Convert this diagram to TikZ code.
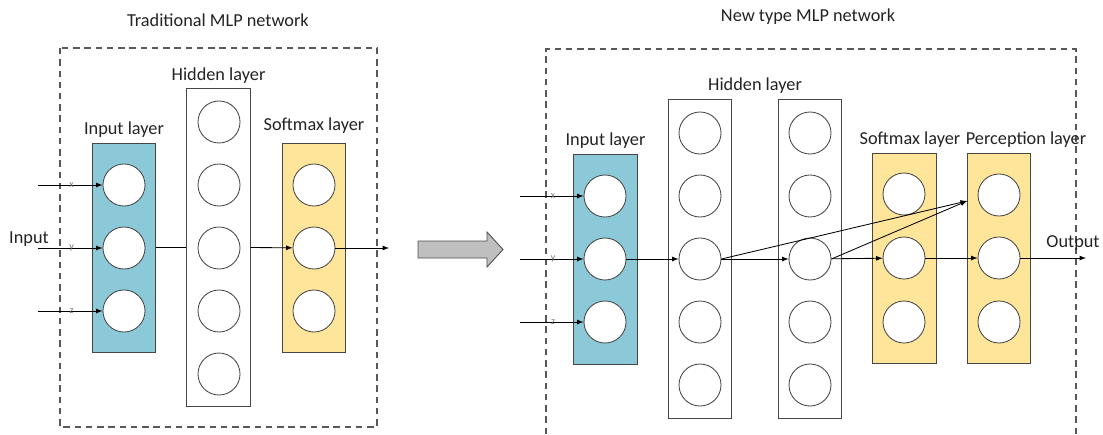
\documentclass[tikz,border=0pt]{standalone}
\usepackage{fontspec}
\setmainfont{Carlito}
\usetikzlibrary{arrows.meta}
\definecolor{inblue}{RGB}{140,201,216}
\definecolor{softyellow}{RGB}{255,229,153}
\definecolor{edgegray}{RGB}{70,70,70}
\definecolor{txtgray}{RGB}{35,35,35}
\tikzset{
	neuron/.style={circle, draw=edgegray, fill=white, semithick, minimum size=1.05cm, inner sep=0pt},
	layerbox/.style={draw=edgegray, semithick, minimum width=1.58cm, inner sep=0pt},
	lbl/.style={text=txtgray, font=\fontsize{13}{15}\selectfont},
	xyz/.style={text=black!55, font=\fontsize{7}{8}\selectfont, inner sep=0pt},
}
\begin{document}
\begin{tikzpicture}[x=0.025cm, y=-0.025cm]
	\useasboundingbox (0, 0) rectangle (1103, 434);
		\draw[edgegray!90, thick, dash pattern=on 4.5pt off 3.5pt] (60, 48) rectangle (377, 427);
		\draw[edgegray!90, thick, dash pattern=on 4.5pt off 3.5pt] (546, 434) -- (546, 49) -- (1076, 49) -- (1076, 434);
		\node[lbl] (titleA) at (218, 20) {Traditional MLP network};
		\node[lbl] (titleB) at (808, 17) {New type MLP network};
		\node[layerbox, fill=inblue, minimum height=5.225cm] (inA) at (124, 247.5) {};
		\node[layerbox, minimum height=7.95cm] (hidA) at (218.5, 247.5) {};
		\node[layerbox, fill=softyellow, minimum height=5.225cm] (smA) at (314, 247.5) {};
		\node[lbl, above] at (inA.north) {Input layer};
		\node[lbl, above] at (hidA.north) {Hidden layer};
		\node[lbl, above=3pt] at (smA.north) {Softmax layer};
		\node[neuron] (ia1) at (124, 185) {};
		\node[neuron] (ia2) at (124, 248) {};
		\node[neuron] (ia3) at (124, 311) {};
		\node[neuron] (ha1) at (219, 122) {};
		\node[neuron] (ha2) at (219, 185) {};
		\node[neuron] (ha3) at (219, 248) {};
		\node[neuron] (ha4) at (219, 311) {};
		\node[neuron] (ha5) at (219, 374) {};
		\node[neuron] (sa1) at (314, 185) {};
		\node[neuron] (sa2) at (314, 248) {};
		\node[neuron] (sa3) at (314, 311) {};
		\coordinate (xa) at (38, 185);
		\coordinate (ya) at (38, 248);
		\coordinate (za) at (38, 311);
		\coordinate (outA) at (389, 248);
		\node[lbl] (inputlbl) at (29, 239) {Input};
		\draw[semithick, -latex] (xa) -- (ia1) node[xyz, pos=0.52] {x};
		\draw[semithick, -latex] (ya) -- (ia2) node[xyz, pos=0.52] {y};
		\draw[semithick, -latex] (za) -- (ia3) node[xyz, pos=0.52] {z};
		\draw[semithick] (inA.east) -- (hidA.west);
		\draw[semithick, -latex] (hidA.east) -- (sa2);
		\draw[semithick, -latex] (sa2) -- (outA);
		\filldraw[fill=gray!50, draw=gray!60!black, semithick] (418, 241) -- (487, 241) -- (487, 232) -- (503, 249.5) -- (487, 267) -- (487, 258) -- (418, 258) -- cycle;
		\node[layerbox, fill=inblue, minimum height=5.25cm] (inB) at (605.5, 259) {};
		\node[layerbox, minimum height=7.975cm] (hidB) at (700, 258.5) {};
		\node[layerbox, minimum height=7.975cm] (hidC) at (810, 259) {};
		\node[layerbox, fill=softyellow, minimum height=5.25cm] (smB) at (904.5, 258) {};
		\node[layerbox, fill=softyellow, minimum height=5.25cm] (perB) at (999, 258) {};
		\node[lbl, above] at (inB.north) {Input layer};
		\node[lbl, above] at (hidB.north -| 755, 0) {Hidden layer};
		\node[lbl, above] at (smB.north -| 910, 0) {Softmax layer};
		\node[lbl, above] at (perB.north -| 1026, 0) {Perception layer};
		\node[neuron] (ib1) at (605, 196) {};
		\node[neuron] (ib2) at (605, 259) {};
		\node[neuron] (ib3) at (605, 322) {};
		\node[neuron] (hb1) at (700, 133) {};
		\node[neuron] (hb2) at (700, 196) {};
		\node[neuron] (hb3) at (700, 259) {};
		\node[neuron] (hb4) at (700, 322) {};
		\node[neuron] (hb5) at (700, 385) {};
		\node[neuron] (hc1) at (810, 133) {};
		\node[neuron] (hc2) at (810, 196) {};
		\node[neuron] (hc3) at (810, 259) {};
		\node[neuron] (hc4) at (810, 322) {};
		\node[neuron] (hc5) at (810, 385) {};
		\node[neuron] (sb1) at (904, 194) {};
		\node[neuron] (sb2) at (904, 258) {};
		\node[neuron] (sb3) at (904, 322) {};
		\node[neuron] (pb1) at (999, 195) {};
		\node[neuron] (pb2) at (999, 258) {};
		\node[neuron] (pb3) at (999, 322) {};
		\coordinate (xb) at (520, 196);
		\coordinate (yb) at (520, 259);
		\coordinate (zb) at (520, 322);
		\coordinate (joinB) at (967, 201);
		\coordinate (outB) at (1086, 258);
		\node[lbl] (outputlbl) at (1073, 243) {Output};
		\draw[semithick, -latex] (xb) -- (ib1) node[xyz, pos=0.52] {x};
		\draw[semithick, -latex] (yb) -- (ib2) node[xyz, pos=0.52] {y};
		\draw[semithick, -latex] (zb) -- (ib3) node[xyz, pos=0.52] {z};
		\draw[semithick, -latex] (ib2) -- (hb3);
		\draw[semithick, -latex] (hb3) -- (hc3);
		\draw[semithick, -latex] (hc3) -- (sb2);
		\draw[semithick, -latex] (sb2) -- (pb2);
		\draw[semithick, -latex] (pb2) -- (outB);
		\draw[semithick, -latex] (hb3.east) -- (joinB);
		\draw[semithick, -latex] (hc3.east) -- (joinB);
	\end{tikzpicture}
\end{document}
